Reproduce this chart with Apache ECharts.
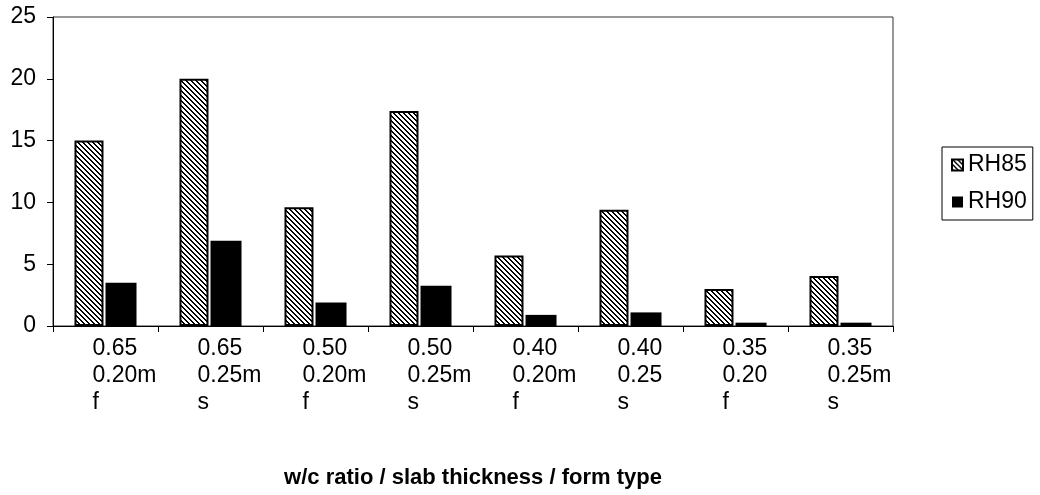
<!DOCTYPE html>
<html><head><meta charset="utf-8">
<script src="https://cdn.jsdelivr.net/npm/echarts@6/dist/echarts.min.js"></script>
<style>html,body{margin:0;padding:0;background:#fff}#c{width:1040px;height:495px}</style>
</head><body><div id="c"></div>
<script>
const categories = ['0.65\n0.20m\nf','0.65\n0.25m\ns','0.50\n0.20m\nf','0.50\n0.25m\ns','0.40\n0.20m\nf','0.40\n0.25\ns','0.35\n0.20\nf','0.35\n0.25m\ns'];
const rh85 = [15.0, 20.0, 9.6, 17.4, 5.7, 9.4, 3.0, 4.05];
const rh90 = [3.5, 6.9, 1.9, 3.25, 0.9, 1.1, 0.27, 0.27];
const yTicks = [0, 5, 10, 15, 20, 25];
const seriesNames = ['RH85', 'RH90'];
const xTitle = 'w/c ratio / slab thickness / form type';

function hatch() {
  const s = 5, cv = document.createElement('canvas');
  cv.width = s; cv.height = s;
  const ctx = cv.getContext('2d');
  const img = ctx.createImageData(s, s);
  for (let y = 0; y < s; y++) for (let x = 0; x < s; x++) {
    const d = ((x - y) % s + s) % s;
    const v = d < 2 ? 0 : 255;
    const i = (y * s + x) * 4;
    img.data[i] = v; img.data[i+1] = v; img.data[i+2] = v; img.data[i+3] = 255;
  }
  ctx.putImageData(img, 0, 0);
  return cv;
}
const pattern = { image: hatch(), repeat: 'repeat' };

const chart = echarts.init(document.getElementById('c'));
const font = 'Liberation Sans, Arial, sans-serif';
chart.setOption({
  animation: false,
  textStyle: { fontFamily: font },
  grid: { left: 53, right: 147, top: 17, bottom: 169, show: true, borderColor: '#333', borderWidth: 1, backgroundColor: '#fff' },
  legend: {
    orient: 'vertical', left: 942, top: 147,
    padding: [6, 6, 6, 9], itemGap: 13, itemWidth: 11, itemHeight: 11, itemTextGap: 9,
    borderColor: '#000', borderWidth: 1,
    icon: 'rect',
    textStyle: { fontSize: 23, lineHeight: 24, color: '#000', fontFamily: font },
    data: seriesNames
  },
  xAxis: {
    type: 'category', data: categories,
    name: xTitle, nameLocation: 'middle', nameGap: 141,
    nameTextStyle: { fontSize: 22, fontWeight: 'bold', color: '#000', fontFamily: font },
    axisLine: { lineStyle: { color: '#000', width: 1 } },
    axisTick: { show: true, length: 6, alignWithLabel: false, lineStyle: { color: '#000' } },
    axisLabel: {
      interval: 0, margin: 9, color: '#000', fontSize: 23, fontFamily: font, align: 'center',
      formatter: v => v.split('\n').map(t => '{a|' + t + '}').join('\n'),
      rich: { a: { width: 26, align: 'left', fontSize: 23, lineHeight: 27, color: '#000', fontFamily: font } }
    }
  },
  yAxis: {
    type: 'value', min: yTicks[0], max: yTicks[yTicks.length - 1], interval: 5,
    axisLine: { show: true, lineStyle: { color: '#000', width: 1 } },
    axisTick: { show: true, length: 6, lineStyle: { color: '#000' } },
    splitLine: { show: false },
    axisLabel: { color: '#000', fontSize: 23, margin: 17, fontFamily: font }
  },
  series: [
    { name: seriesNames[0], type: 'bar', data: rh85, barWidth: 29, barGap: '7%',
      itemStyle: { color: pattern, borderColor: '#000', borderWidth: 2 } },
    { name: seriesNames[1], type: 'bar', data: rh90, barWidth: 31,
      itemStyle: { color: '#000', borderColor: '#000', borderWidth: 0 } }
  ]
});
</script></body></html>
